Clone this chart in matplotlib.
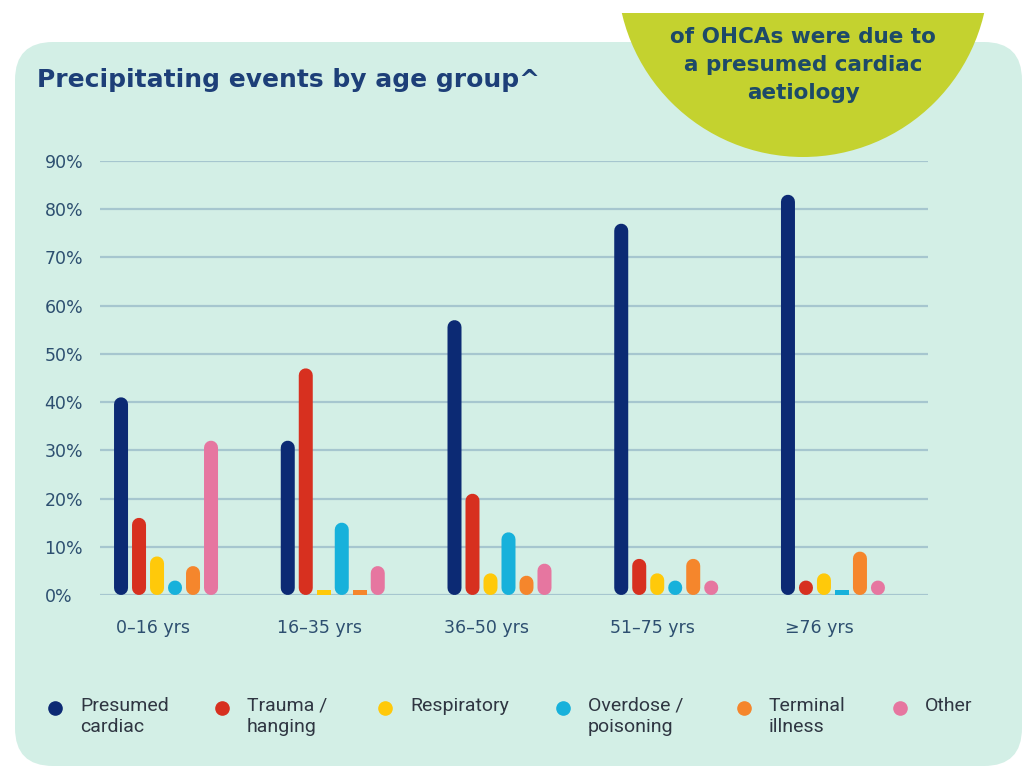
#!/usr/bin/env python

"""
Precipitating events of OHCA by age group, as rounded bars on a mint panel.
"""

import matplotlib.pyplot as plt
from matplotlib.patches import FancyBboxPatch, Circle, Rectangle
from matplotlib.lines import Line2D
import numpy as np

# Age groups and share of OHCAs (%) per precipitating event
AGE_GROUPS = ['0–16 yrs', '16–35 yrs', '36–50 yrs', '51–75 yrs', '≥76 yrs']
CARDIAC = [41, 32, 57, 77, 83]
TRAUMA = [16, 47, 21, 7.5, 3]
RESPIRATORY = [8, 1, 4.5, 4.5, 4.5]
OVERDOSE = [3, 15, 13, 3, 1]
TERMINAL = [6, 1, 4, 7.5, 9]
OTHER = [32, 6, 6.5, 3, 3]

LABELS = ['Presumed\ncardiac', 'Trauma /\nhanging', 'Respiratory',
          'Overdose /\npoisoning', 'Terminal\nillness', 'Other']
COLOURS = ['#0c2a74', '#d7301f', '#ffc90a', '#17b1db', '#f5862c', '#e676a0']
Y_TICKS = list(range(0, 91, 10))

W, H = 1028, 770
PANEL = '#d3efe6'
GRID = '#a6c6cf'
NAVY_TEXT = '#1d3f78'
TICK_TEXT = '#2d4f70'


def main():
    series = [CARDIAC, TRAUMA, RESPIRATORY, OVERDOSE, TERMINAL, OTHER]

    fig = plt.figure(figsize=(W / 100, H / 100), dpi=100, facecolor='white')

    # Background layer in pixel coordinates
    bg = fig.add_axes([0, 0, 1, 1])
    bg.set_xlim(0, W)
    bg.set_ylim(H, 0)
    bg.axis('off')
    bg.add_patch(FancyBboxPatch((15, 42), 1007, 724,
                                boxstyle='round,pad=0,rounding_size=38',
                                fc=PANEL, ec='none'))
    bg.add_patch(Circle((803, -29), 186, fc='#c4d22f', ec='none'))
    bg.add_patch(Rectangle((0, 0), W, 13, fc='white', ec='none'))
    for i, line in enumerate(['of OHCAs were due to', 'a presumed cardiac',
                              'aetiology']):
        bg.text(803, 37 + i * 28, line, ha='center', va='center',
                fontsize=15.5, color='#1d4a68', fontweight='semibold',
                family='DejaVu Sans')
    bg.text(37, 80, 'Precipitating events by age group^', ha='left',
            va='center', fontsize=18, fontweight='bold', color=NAVY_TEXT)

    # Legend drawn by hand so the dot sits beside the first line
    leg_x = [55, 222, 385, 563, 744, 900]
    for x, lab, col in zip(leg_x, LABELS, COLOURS):
        bg.add_line(Line2D([x], [708], marker='o', markersize=9.5,
                           color=col, linestyle='none'))
        bg.text(x + 25, 697, lab, ha='left', va='top', fontsize=14,
                family='Roboto', color='#2f3642', linespacing=1.25)

    # Chart axes
    ax = fig.add_axes([100 / W, 1 - 595 / H, 828 / W, 434 / H])
    ax.patch.set_alpha(0)
    ax.set_ylim(0, 90)
    ax.set_xlim(-0.396, 4.57)
    for s in ax.spines.values():
        s.set_visible(False)
    ax.set_axisbelow(True)
    ax.yaxis.grid(True, color=GRID, linewidth=1.6)
    ax.set_yticks(Y_TICKS)
    ax.set_yticklabels([f'{v}%' for v in Y_TICKS])
    for lab in ax.get_yticklabels():
        lab.set_horizontalalignment('left')
    ax.tick_params(axis='y', length=0, pad=40, labelsize=12.5,
                   labelcolor=TICK_TEXT)

    groups = np.arange(len(AGE_GROUPS))
    ax.set_xticks(groups - 0.08)
    ax.set_xticklabels(AGE_GROUPS)
    ax.tick_params(axis='x', length=0, pad=17, labelsize=12.5,
                   labelcolor=TICK_TEXT)

    # Bars as thick lines with round caps; very small values stay flat
    step = 18 / 166.75
    bar_w = 14 / 166.75
    lw = 14 * 72 / 100
    r = 7 / (434 / 90)
    for j, (vals, col) in enumerate(zip(series, COLOURS)):
        vals = np.asarray(vals, dtype=float)
        xs = groups + (j - 2.5) * step
        tall = vals >= 2 * r
        lines = ax.vlines(xs[tall], r, vals[tall] - r, colors=col,
                          linewidth=lw, capstyle='round', zorder=3)
        lines.set_snap(False)
        if (~tall).any():
            ax.bar(xs[~tall], vals[~tall], width=bar_w, color=col, zorder=3)

    fig.savefig('out.png', dpi=100, facecolor='white')


if __name__ == '__main__':
    main()
